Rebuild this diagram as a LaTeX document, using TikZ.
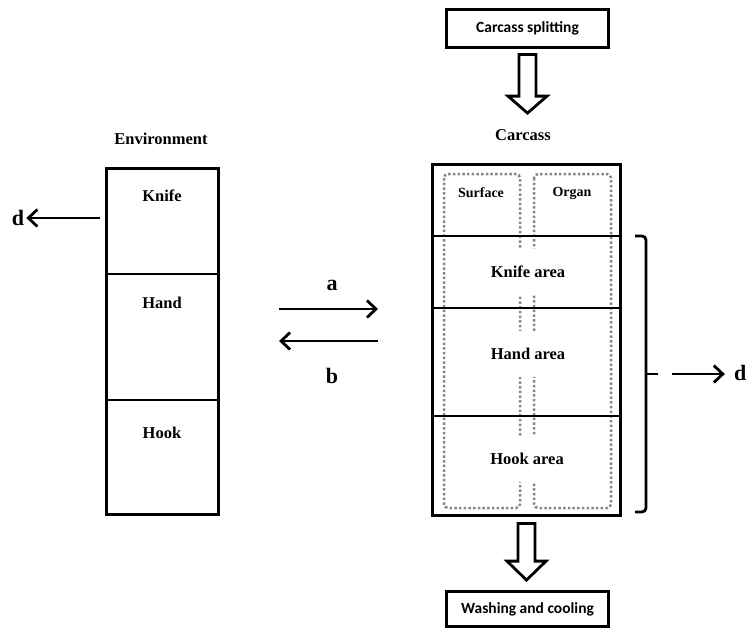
\documentclass[tikz,border=0pt]{standalone}
\usepackage{fontspec}
\setmainfont{Liberation Serif}[BoldFont={Liberation Serif Bold}]
\newfontfamily\sansf{Carlito}[BoldFont={Carlito Bold}]
\usetikzlibrary{arrows.meta,calc}
\definecolor{dotgray}{RGB}{135,135,135}
\begin{document}
\begin{tikzpicture}[x=1pt,y=-1pt,
  boxsec/.style={draw, line width=2.8pt, inner sep=0pt, minimum width=#1},
  sbox/.style={draw, line width=2.8pt, inner sep=0pt, minimum width=162.4pt,
    font=\sansf\bfseries\fontsize{15.5}{17}\selectfont},
  lbl/.style={font=\bfseries\fontsize{16.5}{18}\selectfont, inner sep=2pt},
  smalllbl/.style={font=\bfseries\fontsize{14}{16}\selectfont, inner sep=2pt},
  biglbl/.style={font=\bfseries\fontsize{22}{24}\selectfont, inner sep=2pt},
  arealbl/.style={font=\bfseries\fontsize{16.5}{18}\selectfont, fill=white,
    inner xsep=4pt, minimum height=46pt},
  arr/.style={line width=2.8pt, -{Straight Barb[length=9pt,width=17pt]}},
  dotbox/.style={draw=dotgray, line width=2.5pt, dash pattern=on 2.5pt off 2.2pt, rounded corners=4pt},
  hollow/.style={draw, line width=2.8pt, line join=miter, fill=white},
  bracketline/.style={line width=2.8pt}
]
\useasboundingbox (0,0) rectangle (748,629);

% top and bottom process boxes
\node[sbox, minimum height=38.4pt] (split) at (527.5,28.5) {Carcass splitting};
\node[sbox, minimum height=35.4pt] (wash) at (527.5,609) {Washing and cooling};

% labels
\node[lbl] (carc) at (523,135) {Carcass};
\node[lbl] (env) at (161,139) {Environment};

% environment box
\node[boxsec=112.4pt, minimum height=105.7pt] (E1) at (162.5,221.15) {};
\node[boxsec=112.4pt, minimum height=126pt] (E2) at (162.5,337) {};
\node[boxsec=112.4pt, minimum height=114.7pt] (E3) at (162.5,457.35) {};
\node[lbl] (knife) at (162,196) {Knife};
\node[lbl] (hand) at (162,303) {Hand};
\node[lbl] (hook) at (162,433) {Hook};

% dotted inner boxes of the carcass
\draw[dotbox] (444,174) rectangle (520,508);
\draw[dotbox] (534,174) rectangle (611,508);

% carcass box
\node[boxsec=188.4pt, minimum height=71.7pt] (C0) at (526.5,200.15) {};
\node[boxsec=188.4pt, minimum height=72pt] (C1) at (526.5,272) {};
\node[boxsec=188.4pt, minimum height=108pt] (C2) at (526.5,362) {};
\node[boxsec=188.4pt, minimum height=99.7pt] (C3) at (526.5,465.85) {};
\node[smalllbl] (surf) at (481,193) {Surface};
\node[smalllbl] (organ) at (572,193) {Organ};
\node[arealbl] (karea) at (528,272) {Knife area};
\node[arealbl] (harea) at (528,354) {Hand area};
\node[arealbl] (hkarea) at (527,459) {Hook area};

% hollow arrows
\begin{scope}[shift={(split.south)}]
\draw[hollow] (-8.5,5.3) -- (8.5,5.3) -- (8.5,47) -- (19.5,47) -- (0,64)
  -- (-19.5,47) -- (-8.5,47) -- cycle;
\end{scope}
\begin{scope}[shift={(C3.south)}]
\draw[hollow] (-8.5,6.3) -- (8.5,6.3) -- (8.5,44) -- (19.5,44) -- (0,63)
  -- (-19.5,44) -- (-8.5,44) -- cycle;
\end{scope}

% d arrow on the left
\node[biglbl] (dl) at (18,218) {d};
\draw[arr, shorten <=5pt] (dl -| E1.west) -- (dl.east);

% a / b arrows
\coordinate (ea) at (279,309);
\coordinate (ca) at (378,309);
\coordinate (eb) at (279,341);
\coordinate (cb) at (378,341);
\node[biglbl] (la) at (332,285) {a};
\node[biglbl] (lb) at (332,376) {b};
\draw[arr] (ea) -- (ca);
\draw[arr] (cb) -- (eb);

% bracket
\coordinate (bt) at (635,236);
\coordinate (bm) at (646,374);
\coordinate (bb) at (635,512);
\draw[bracketline, rounded corners=4pt] (bt) -- (bm |- bt) -- (bm) -- (bm |- bb) -- (bb);
\draw[bracketline] (bm) -- ++(12,0) coordinate (btip);

% d arrow on the right
\node[biglbl, anchor=east, inner sep=1pt] (dr) at (747.5,373) {d};
\coordinate (rs) at (672,374);
\draw[arr, shorten >=8pt] (rs) -- (dr.west |- rs);
\end{tikzpicture}
\end{document}
